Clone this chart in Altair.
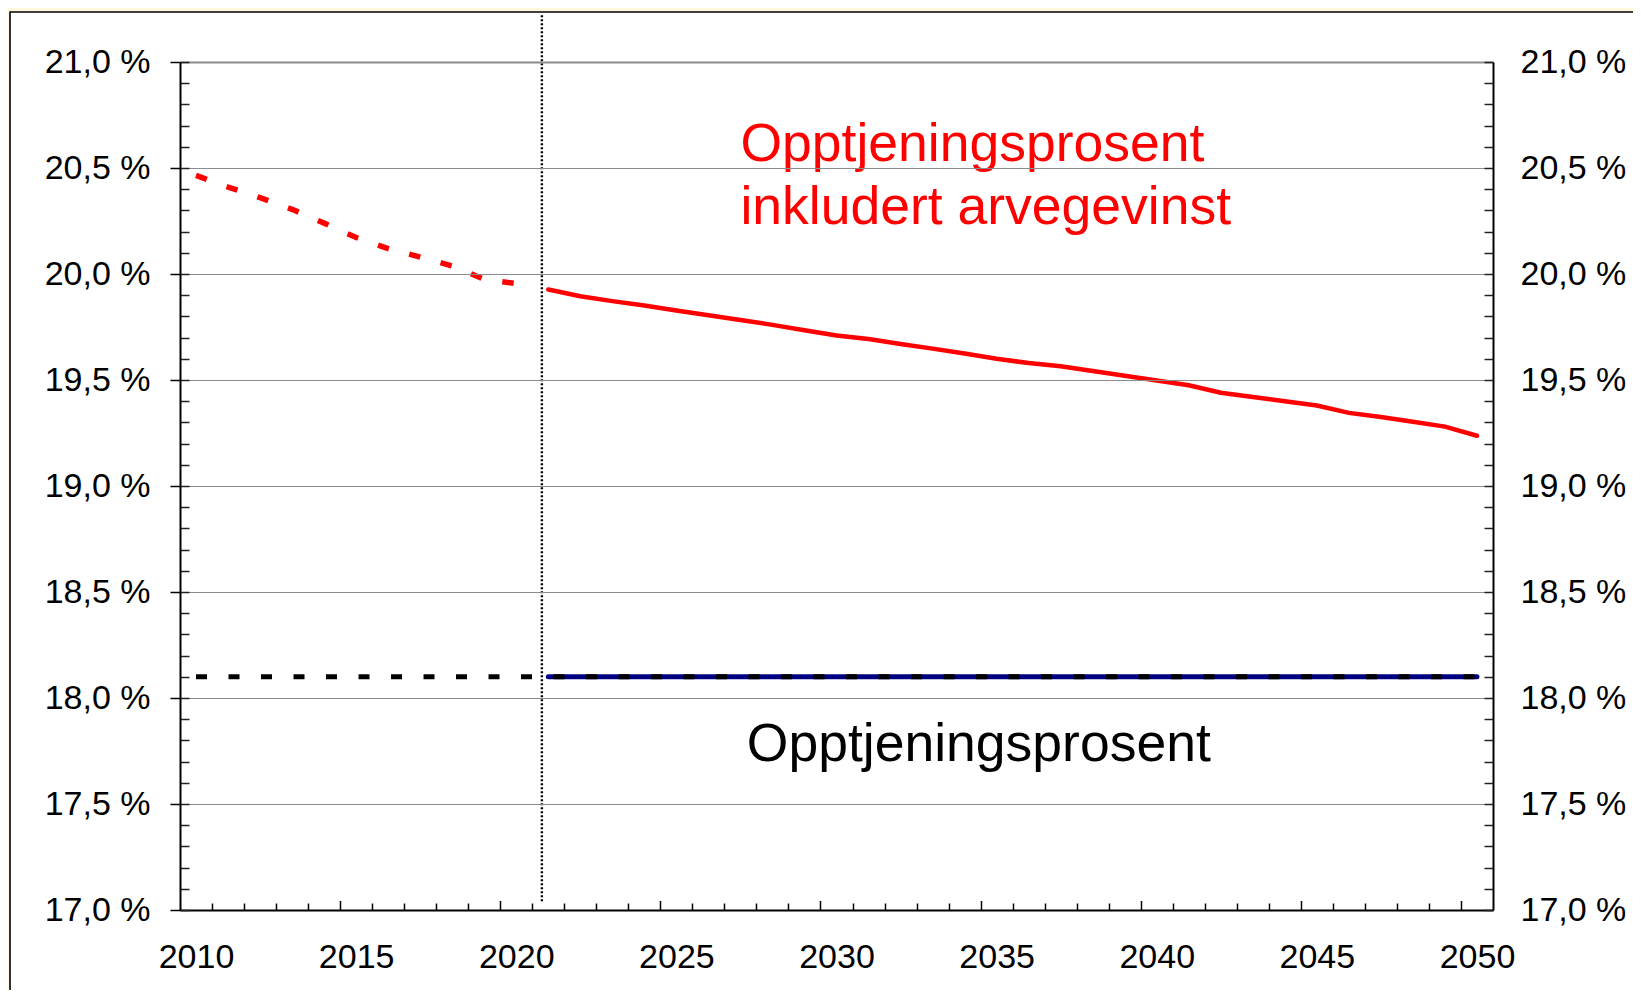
import altair as alt
import pandas as pd

FONT = "Liberation Sans"

# ---- data ----
years_hist = [2010, 2011, 2012, 2013, 2014, 2015, 2016, 2017, 2018, 2019, 2020]
rate_incl_hist = [20.465, 20.41, 20.36, 20.305, 20.24, 20.172, 20.12, 20.08, 20.038, 19.975, 19.955]

years_proj = [2021, 2022, 2023, 2024, 2025, 2026, 2027, 2028, 2029, 2030,
              2031, 2032, 2033, 2034, 2035, 2036, 2037, 2038, 2039, 2040,
              2041, 2042, 2043, 2044, 2045, 2046, 2047, 2048, 2049, 2050]
rate_incl_proj = [19.927, 19.895, 19.872, 19.851, 19.828, 19.805, 19.783, 19.760, 19.735, 19.710,
                  19.693, 19.670, 19.648, 19.625, 19.600, 19.580, 19.565, 19.542, 19.520, 19.498,
                  19.475, 19.440, 19.420, 19.400, 19.380, 19.345, 19.325, 19.303, 19.280, 19.237]

years_all = [2010, 2011, 2012, 2013, 2014, 2015, 2016, 2017, 2018, 2019, 2020,
             2021, 2022, 2023, 2024, 2025, 2026, 2027, 2028, 2029, 2030,
             2031, 2032, 2033, 2034, 2035, 2036, 2037, 2038, 2039, 2040,
             2041, 2042, 2043, 2044, 2045, 2046, 2047, 2048, 2049, 2050]
rate_base_all = [18.1, 18.1, 18.1, 18.1, 18.1, 18.1, 18.1, 18.1, 18.1, 18.1, 18.1,
                 18.1, 18.1, 18.1, 18.1, 18.1, 18.1, 18.1, 18.1, 18.1, 18.1,
                 18.1, 18.1, 18.1, 18.1, 18.1, 18.1, 18.1, 18.1, 18.1, 18.1,
                 18.1, 18.1, 18.1, 18.1, 18.1, 18.1, 18.1, 18.1, 18.1, 18.1]
rate_base_proj = [18.1, 18.1, 18.1, 18.1, 18.1, 18.1, 18.1, 18.1, 18.1, 18.1,
                  18.1, 18.1, 18.1, 18.1, 18.1, 18.1, 18.1, 18.1, 18.1, 18.1,
                  18.1, 18.1, 18.1, 18.1, 18.1, 18.1, 18.1, 18.1, 18.1, 18.1]

divider_x = [2020.8]
divider_top = [21.22]
divider_bottom = [17.04]

red_label_lines = ["Opptjeningsprosent", "inkludert arvegevinst"]
red_label_x = [2027.0, 2027.0]
red_label_y = [20.533, 20.236]
black_label_lines = ["Opptjeningsprosent"]
black_label_x = [2027.2]
black_label_y = [17.705]

y_major_ticks = [17.0, 17.5, 18.0, 18.5, 19.0, 19.5, 20.0, 20.5, 21.0]
y_minor_ticks = [17.0, 17.1, 17.2, 17.3, 17.4, 17.5, 17.6, 17.7, 17.8, 17.9,
                 18.0, 18.1, 18.2, 18.3, 18.4, 18.5, 18.6, 18.7, 18.8, 18.9,
                 19.0, 19.1, 19.2, 19.3, 19.4, 19.5, 19.6, 19.7, 19.8, 19.9,
                 20.0, 20.1, 20.2, 20.3, 20.4, 20.5, 20.6, 20.7, 20.8, 20.9, 21.0]
x_label_years = [2010, 2015, 2020, 2025, 2030, 2035, 2040, 2045, 2050]
x_tick_positions = [2010.5, 2011.5, 2012.5, 2013.5, 2014.5, 2015.5, 2016.5, 2017.5, 2018.5, 2019.5,
                    2020.5, 2021.5, 2022.5, 2023.5, 2024.5, 2025.5, 2026.5, 2027.5, 2028.5, 2029.5,
                    2030.5, 2031.5, 2032.5, 2033.5, 2034.5, 2035.5, 2036.5, 2037.5, 2038.5, 2039.5,
                    2040.5, 2041.5, 2042.5, 2043.5, 2044.5, 2045.5, 2046.5, 2047.5, 2048.5, 2049.5]

# ---- layout ----
W, H = 1313, 848
xs = alt.Scale(domain=[2009.5, 2050.5], nice=False, zero=False)
ys = alt.Scale(domain=[17.0, 21.0], nice=False, zero=False)
pct_expr = "replace(format(datum.value, '.1f'), '.', ',') + ' %'"
LABEL_SIZE = 34
BIG_SIZE = 53.5

df_hist = pd.DataFrame({"year": years_hist, "v": rate_incl_hist})
df_proj = pd.DataFrame({"year": years_proj, "v": rate_incl_proj})
df_base = pd.DataFrame({"year": years_all, "v": rate_base_all})
df_base_proj = pd.DataFrame({"year": years_proj, "v": rate_base_proj})
df_div = pd.DataFrame({"x": divider_x, "y1": divider_top, "y2": divider_bottom})
df_red_lab = pd.DataFrame({"x": red_label_x, "y": red_label_y, "t": red_label_lines})
df_blk_lab = pd.DataFrame({"x": black_label_x, "y": black_label_y, "t": black_label_lines})

ax_x_labels = alt.Axis(orient="bottom", values=x_label_years, format="d", title=None,
                       labelFont=FONT, labelFontSize=LABEL_SIZE, labelColor="black",
                       labelPadding=47, labelBaseline="middle", labelFlush=False,
                       labelOverlap=False, ticks=False, tickSize=0, domain=True,
                       domainColor="black", domainWidth=2, grid=False, zindex=1)
ax_y_left = alt.Axis(orient="left", values=y_major_ticks, labelExpr=pct_expr, title=None,
                     labelFont=FONT, labelFontSize=LABEL_SIZE, labelColor="black", labelPadding=20,
                     labelFlush=False, labelOverlap=False,
                     ticks=True, tickSize=10, tickColor="black", tickWidth=1.5,
                     domain=True, domainColor="black", domainWidth=2,
                     grid=True, gridColor="#8c8c8c",
                     gridWidth={"condition": {"test": "datum.value > 20.99", "value": 2.2}, "value": 1},
                     zindex=1)
ax_y_right = alt.Axis(orient="right", values=y_major_ticks, labelExpr=pct_expr, title=None,
                      labelFont=FONT, labelFontSize=LABEL_SIZE, labelColor="black", labelPadding=27,
                      labelFlush=False, labelOverlap=False,
                      ticks=False, tickSize=0, domain=True, domainColor="black", domainWidth=2,
                      grid=False, zindex=1)
ax_x_inner = alt.Axis(orient="top", offset=-H, values=x_tick_positions, labels=False, title=None,
                      domain=False, ticks=True, tickColor="black", tickWidth=1.5,
                      tickSize={"condition": {"test": "abs((datum.value - 2014.5) % 5) < 0.01", "value": 9.5},
                                "value": 7},
                      grid=False, zindex=1)
ax_y_minor_left = alt.Axis(orient="right", offset=-W, values=y_minor_ticks, labels=False, title=None,
                           domain=False, ticks=True, tickSize=9, tickColor="#222222", tickWidth=1.5,
                           grid=False, zindex=1)
ax_y_minor_right = alt.Axis(orient="left", offset=-W, values=y_minor_ticks, labels=False, title=None,
                            domain=False, ticks=True, tickSize=9, tickColor="#222222", tickWidth=1.5,
                            grid=False, zindex=1)

frame = alt.Chart(pd.DataFrame({"k": [0]})).mark_rect(
    fill="white", stroke="black", strokeWidth=1.6
).encode(x=alt.value(-170), x2=alt.value(1700), y=alt.value(-50), y2=alt.value(1100))

blue = alt.Chart(df_base_proj).mark_line(color="#000080", strokeWidth=5, strokeCap="round").encode(
    x=alt.X("year:Q", scale=xs, axis=None),
    y=alt.Y("v:Q", scale=ys, axis=ax_y_minor_left),
)
black = alt.Chart(df_base).mark_line(color="black", strokeWidth=5, strokeDash=[11, 21.5],
                                     strokeCap="butt").encode(
    x=alt.X("year:Q", scale=xs, axis=None),
    y=alt.Y("v:Q", scale=ys, axis=ax_y_minor_right),
)
red_dash = alt.Chart(df_hist).mark_line(color="#ff0000", strokeWidth=5.5, strokeDash=[11.5, 21],
                                        strokeCap="butt").encode(
    x=alt.X("year:Q", scale=xs, axis=ax_x_labels),
    y=alt.Y("v:Q", scale=ys, axis=ax_y_left),
)
red_solid = alt.Chart(df_proj).mark_line(color="#ff0000", strokeWidth=4.5, strokeCap="round").encode(
    x=alt.X("year:Q", scale=xs, axis=ax_x_inner),
    y=alt.Y("v:Q", scale=ys, axis=ax_y_right),
)
divider = alt.Chart(df_div).mark_rule(color="black", strokeWidth=2.4, strokeDash=[2, 2]).encode(
    x=alt.X("x:Q", scale=xs, axis=None),
    y=alt.Y("y1:Q", scale=ys, axis=None),
    y2="y2:Q",
)
red_text = alt.Chart(df_red_lab).mark_text(align="left", baseline="alphabetic", font=FONT,
                                          fontSize=BIG_SIZE, color="#ff0000").encode(
    x=alt.X("x:Q", scale=xs, axis=None),
    y=alt.Y("y:Q", scale=ys, axis=None),
    text="t:N",
)
black_text = alt.Chart(df_blk_lab).mark_text(align="left", baseline="alphabetic", font=FONT,
                                            fontSize=BIG_SIZE, color="black").encode(
    x=alt.X("x:Q", scale=xs, axis=None),
    y=alt.Y("y:Q", scale=ys, axis=None),
    text="t:N",
)

chart = alt.layer(
    frame, blue, black, red_dash, red_solid, divider, red_text, black_text
).resolve_scale(
    x="independent", y="independent"
).resolve_axis(
    x="independent", y="independent"
).properties(
    width=W, height=H,
    autosize=alt.AutoSizeParams(type="none"),
    padding={"left": 172, "top": 54, "right": 140, "bottom": 80},
    background="#FFF8DC",
).configure_view(strokeWidth=0)

chart.save("out.html", embed_options={"renderer": "svg", "actions": False})
